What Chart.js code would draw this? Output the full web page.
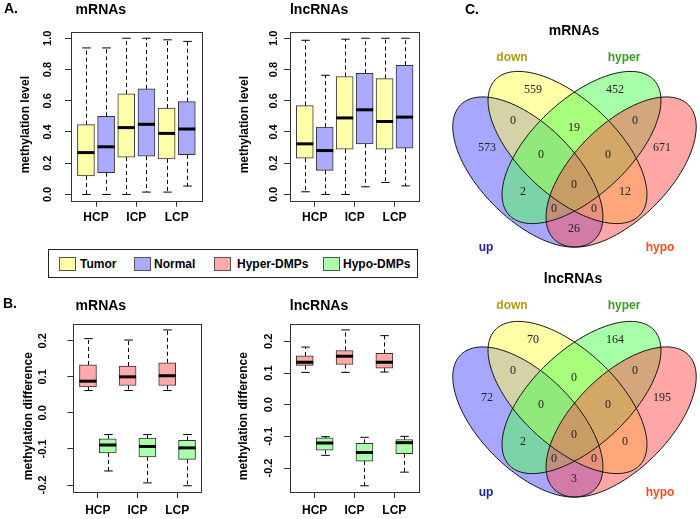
<!DOCTYPE html>
<html>
<head>
<meta charset="utf-8">
<script src="https://cdn.jsdelivr.net/npm/chart.js@4.4.1/dist/chart.umd.min.js"></script>
<style>
  body { margin: 0; background: #fff; }
  #fig { position: relative; width: 700px; height: 519px; background: #fff; overflow: hidden;
         font-family: "Liberation Sans", Arial, sans-serif; color: #000; }
  #fig canvas { position: absolute; }
  .t { position: absolute; transform: translate(-50%, -50%); font-weight: bold; line-height: 1; white-space: nowrap; }
  .lt { position: absolute; transform: translate(0, -50%); font-weight: bold; font-size: 12px; line-height: 1; white-space: nowrap; }
  .sw { position: absolute; top: 257px; width: 17px; height: 14px; border: 1px solid #555; box-sizing: border-box; }
  #legend { position: absolute; left: 48px; top: 249px; width: 370px; height: 29px; border: 1px solid #222; box-sizing: border-box; }
</style>
</head>
<body>
<div id="fig">
  <canvas id="aM" width="215" height="232" style="left:0;top:0"></canvas>
  <canvas id="aL" width="215" height="232" style="left:219px;top:0"></canvas>
  <canvas id="bM" width="215" height="227" style="left:0;top:292px"></canvas>
  <canvas id="bL" width="215" height="227" style="left:219px;top:292px"></canvas>
  <canvas id="vM" width="260" height="260" style="left:440px;top:0"></canvas>
  <canvas id="vL" width="260" height="260" style="left:440px;top:250px"></canvas>

  <span class="t" style="left:11px;top:8px;font-size:14px">A.</span>
  <span class="t" style="left:10px;top:303px;font-size:14px">B.</span>
  <span class="t" style="left:472px;top:9px;font-size:14px">C.</span>

  <div id="legend"></div>
  <div class="sw" style="left:59px;background:#ffffaa"></div><span class="lt" style="left:80px;top:264px">Tumor</span>
  <div class="sw" style="left:134px;background:#aaaaff"></div><span class="lt" style="left:154px;top:264px">Normal</span>
  <div class="sw" style="left:214px;background:#ffaaaa"></div><span class="lt" style="left:237px;top:264px">Hyper-DMPs</span>
  <div class="sw" style="left:323px;background:#aaffaa"></div><span class="lt" style="left:343px;top:264px">Hypo-DMPs</span>

  <span class="t" style="left:574px;top:30px;font-size:14px">mRNAs</span>
  <span class="t" style="left:512px;top:57px;font-size:12px;color:#ad9a12">down</span>
  <span class="t" style="left:624px;top:57px;font-size:12px;color:#3a9a22">hyper</span>
  <span class="t" style="left:486px;top:247px;font-size:12px;color:#1f1f9e">up</span>
  <span class="t" style="left:660px;top:247px;font-size:12px;color:#ff4a22">hypo</span>

  <span class="t" style="left:573px;top:278px;font-size:14px">lncRNAs</span>
  <span class="t" style="left:512px;top:305px;font-size:12px;color:#ad9a12">down</span>
  <span class="t" style="left:624px;top:305px;font-size:12px;color:#3a9a22">hyper</span>
  <span class="t" style="left:486px;top:492px;font-size:12px;color:#1f1f9e">up</span>
  <span class="t" style="left:660px;top:492px;font-size:12px;color:#ff4a22">hypo</span>
</div>

<script>
const FONT = '"Liberation Sans", Arial, sans-serif'
Chart.defaults.font.family = FONT
Chart.defaults.color = '#000'

const groups = ['HCP', 'ICP', 'LCP']

// box stats for each group: [lower whisker, Q1, median, Q3, upper whisker]
const mrnaTumor  = [[0.000, 0.118, 0.268, 0.447, 0.938], [0.000, 0.239, 0.428, 0.644, 1.000], [0.015, 0.228, 0.391, 0.553, 0.990]]
const mrnaNormal = [[0.000, 0.139, 0.305, 0.500, 0.938], [0.015, 0.245, 0.449, 0.676, 1.000], [0.054, 0.254, 0.419, 0.594, 0.980]]
const lncTumor   = [[0.017, 0.232, 0.324, 0.569, 0.987], [0.000, 0.290, 0.490, 0.755, 0.994], [0.077, 0.290, 0.467, 0.742, 1.000]]
const lncNormal  = [[0.000, 0.154, 0.281, 0.431, 0.763], [0.049, 0.324, 0.542, 0.776, 1.000], [0.055, 0.296, 0.495, 0.827, 1.000]]

const mrnaHyper = [[0.062, 0.072, 0.088, 0.133, 0.206], [0.062, 0.076, 0.100, 0.130, 0.202], [0.062, 0.076, 0.103, 0.139, 0.230]]
const mrnaHypo  = [[-0.161, -0.111, -0.089, -0.072, -0.060], [-0.194, -0.122, -0.093, -0.070, -0.060], [-0.202, -0.129, -0.097, -0.076, -0.060]]
const lncHyper  = [[0.102, 0.124, 0.134, 0.154, 0.182], [0.102, 0.127, 0.153, 0.171, 0.236], [0.103, 0.115, 0.134, 0.162, 0.218]]
const lncHypo   = [[-0.160, -0.144, -0.121, -0.105, -0.101], [-0.256, -0.178, -0.151, -0.122, -0.103], [-0.213, -0.155, -0.120, -0.110, -0.100]]

const levelTicks = [0, 0.2, 0.4, 0.6, 0.8, 1.0]
const diffTicks = [-0.2, -0.1, 0, 0.1, 0.2]

const colors = { tumor: '#ffffaa', normal: '#aaaaff', hyper: '#ffaaaa', hypo: '#aaffaa' }

// trailing spaces nudge the rotated axis title a little below the plot centre, as in R
const pad = s => s + '\u00a0'.repeat(5)

// whiskers, staples and medians on top of the floating bars
const boxPlugin = {
  id: 'boxplot',
  afterDatasetsDraw(chart) {
    const { ctx, chartArea: a, scales: { y } } = chart
    const seg = (x1, y1, x2, y2) => { ctx.beginPath(); ctx.moveTo(x1, y1); ctx.lineTo(x2, y2); ctx.stroke() }
    ctx.save()
    chart.data.datasets.forEach((ds, di) => {
      chart.getDatasetMeta(di).data.forEach((bar, i) => {
        const [lo, q1, med, q3, hi] = ds.stats[i].map(v => y.getPixelForValue(v))
        const cx = Math.round(bar.x) + 0.5
        const half = bar.width / 2
        ctx.strokeStyle = '#000'
        ctx.lineWidth = 1
        ctx.setLineDash([4, 3])
        seg(cx, q3, cx, hi)
        seg(cx, q1, cx, lo)
        ctx.setLineDash([])
        seg(cx - half / 2, hi, cx + half / 2, hi)
        seg(cx - half / 2, lo, cx + half / 2, lo)
        ctx.lineWidth = 3
        seg(bar.x - half, med, bar.x + half, med)
      })
    })
    ctx.lineWidth = 1
    ctx.strokeStyle = '#333'
    ctx.strokeRect(Math.round(a.left) + 0.5, Math.round(a.top) + 0.5, Math.round(a.width), Math.round(a.height))
    ctx.restore()
  }
}

function boxChart(id, o) {
  const all = o.series.flatMap(s => s.stats.flat())
  const lo = Math.min(...all), hi = Math.max(...all)
  const ext = (hi - lo) * 0.04
  return new Chart(document.getElementById(id), {
    type: 'bar',
    data: {
      datasets: o.series.map((s, k) => ({
        label: s.label,
        data: s.stats.map((st, i) => ({ x: 2 * i + 1 + k, y: [st[1], st[3]] })),
        stats: s.stats,
        backgroundColor: s.color,
        borderColor: '#333',
        borderWidth: 1,
        borderSkipped: false,
        barThickness: 17,
        grouped: false
      }))
    },
    options: {
      responsive: false,
      animation: false,
      events: [],
      layout: { padding: { left: 0, right: o.rightPad, top: 0, bottom: 0 } },
      plugins: {
        legend: { display: false },
        tooltip: { enabled: false },
        title: {
          display: true, text: o.title, color: '#000',
          font: { size: 14, weight: 'bold' },
          padding: { top: o.headTop, bottom: o.headBottom }
        }
      },
      scales: {
        x: {
          type: 'linear', min: 0.26, max: 6.74, offset: false,
          afterBuildTicks: sc => { sc.ticks = [1.5, 3.5, 5.5].map(v => ({ value: v })) },
          afterFit: sc => { sc.height = o.xH },
          ticks: {
            callback: (v, i) => groups[i], autoSkip: false, maxRotation: 0,
            padding: o.xPad, color: '#000', font: { size: 12, weight: 'bold' }
          },
          grid: { offset: false, drawOnChartArea: false, tickLength: 6, color: '#333' },
          border: { display: false }
        },
        y: {
          min: lo - ext, max: hi + ext,
          afterBuildTicks: sc => { sc.ticks = o.yTicks.map(v => ({ value: v })) },
          afterFit: sc => { sc.width = o.axisW },
          ticks: {
            callback: v => v.toFixed(1), autoSkip: false,
            minRotation: 90, maxRotation: 90, crossAlign: 'center',
            padding: o.tickPad, color: '#000', font: { size: 11, weight: 'bold' }
          },
          title: {
            display: true, text: pad(o.yTitle), color: '#000',
            font: { size: 12, weight: 'bold' }, padding: { top: o.titlePad, bottom: 0 }
          },
          grid: { drawOnChartArea: false, tickLength: 6, color: '#333' },
          border: { display: false }
        }
      }
    },
    plugins: [boxPlugin]
  })
}

boxChart('aM', {
  title: 'mRNAs', yTitle: 'methylation level', yTicks: levelTicks,
  series: [{ label: 'Tumor', stats: mrnaTumor, color: colors.tumor }, { label: 'Normal', stats: mrnaNormal, color: colors.normal }],
  axisW: 71, rightPad: 13.3, tickPad: 9.3, titlePad: 18.8, headTop: 2, headBottom: 13.2, xH: 31.3, xPad: 3.6
})
boxChart('aL', {
  title: 'lncRNAs', yTitle: 'methylation level', yTicks: levelTicks,
  series: [{ label: 'Tumor', stats: lncTumor, color: colors.tumor }, { label: 'Normal', stats: lncNormal, color: colors.normal }],
  axisW: 71, rightPad: 14.7, tickPad: 2, titlePad: 18.8, headTop: 2, headBottom: 13.2, xH: 31.3, xPad: 3.6
})
boxChart('bM', {
  title: 'mRNAs', yTitle: 'methylation difference', yTicks: diffTicks,
  series: [{ label: 'Hyper-DMPs', stats: mrnaHyper, color: colors.hyper }, { label: 'Hypo-DMPs', stats: mrnaHypo, color: colors.hypo }],
  axisW: 73.3, rightPad: 13.3, tickPad: 14.5, titlePad: 21.1, headTop: 5.6, headBottom: 9.3, xH: 27, xPad: 5.8
})
boxChart('bL', {
  title: 'lncRNAs', yTitle: 'methylation difference', yTicks: diffTicks,
  series: [{ label: 'Hyper-DMPs', stats: lncHyper, color: colors.hyper }, { label: 'Hypo-DMPs', stats: lncHypo, color: colors.hypo }],
  axisW: 71, rightPad: 15, tickPad: 5.2, titlePad: 17.8, headTop: 5.6, headBottom: 9.3, xH: 27, xPad: 5.8
})

// ---- Venn diagrams ----
const vennSets = ['up', 'down', 'hyper', 'hypo']
const vennRegions = ['up', 'down', 'hyper', 'hypo', 'up&down', 'down&hyper', 'hyper&hypo',
  'up&down&hyper', 'down&hyper&hypo', 'up&hyper', 'all', 'down&hypo', 'up&hyper&hypo', 'up&down&hypo', 'up&hypo']
const mrnaVenn = [573, 559, 452, 671, 0, 19, 0, 0, 0, 2, 0, 12, 0, 0, 26]
const lncVenn = [72, 70, 164, 195, 0, 0, 0, 0, 0, 2, 0, 0, 0, 0, 3]

// where each region's count sits, in the diagram's own units
const regionPos = [[47, 148], [93, 90], [175, 90], [222, 148], [73, 121], [134, 128], [195, 121],
  [101, 155], [168, 155], [83, 192], [134, 185], [185, 192], [114, 209], [154, 209], [134, 229]]

// ellipse for each set: centre x, centre y, semi-axes, angle (deg)
const vennShapes = [
  { cx: 87.85, cy: 172, rx: 95, ry: 47.4, rot: 45, fill: 'rgba(80,80,255,0.5)' },
  { cx: 127.5, cy: 147.5, rx: 99, ry: 48, rot: 43, fill: 'rgba(255,255,80,0.5)' },
  { cx: 141.5, cy: 147.5, rx: 99, ry: 48, rot: -43, fill: 'rgba(80,255,80,0.5)' },
  { cx: 181.15, cy: 172, rx: 95, ry: 47.4, rot: -45, fill: 'rgba(255,80,80,0.5)' }
]

const vennPlugin = {
  id: 'venn',
  beforeDatasetsDraw(chart) {
    const { ctx, scales: { x, y } } = chart
    const path = e => {
      const t = e.rot * Math.PI / 180
      ctx.beginPath()
      for (let k = 0; k <= 180; k++) {
        const a = k / 180 * 2 * Math.PI
        const px = e.cx + e.rx * Math.cos(a) * Math.cos(t) - e.ry * Math.sin(a) * Math.sin(t)
        const py = e.cy + e.rx * Math.cos(a) * Math.sin(t) + e.ry * Math.sin(a) * Math.cos(t)
        const X = x.getPixelForValue(px), Y = y.getPixelForValue(py)
        k === 0 ? ctx.moveTo(X, Y) : ctx.lineTo(X, Y)
      }
      ctx.closePath()
    }
    ctx.save()
    vennShapes.forEach(e => { path(e); ctx.fillStyle = e.fill; ctx.fill() })
    ctx.strokeStyle = '#111'
    ctx.lineWidth = 1
    vennShapes.forEach(e => { path(e); ctx.stroke() })
    ctx.restore()
  },
  afterDatasetsDraw(chart) {
    const { ctx } = chart
    const ds = chart.data.datasets[0]
    ctx.save()
    ctx.font = '12px "Liberation Serif", "Times New Roman", serif'
    ctx.fillStyle = '#222'
    ctx.textAlign = 'center'
    ctx.textBaseline = 'middle'
    chart.getDatasetMeta(0).data.forEach((pt, i) => ctx.fillText(String(ds.counts[i]), pt.x, pt.y))
    ctx.restore()
  }
}

function vennChart(id, counts) {
  return new Chart(document.getElementById(id), {
    type: 'scatter',
    data: {
      datasets: [{
        label: vennSets.join('/'),
        data: regionPos.map(p => ({ x: p[0], y: p[1] })),
        counts: counts,
        pointRadius: 0
      }]
    },
    options: {
      responsive: false,
      animation: false,
      events: [],
      layout: { padding: 0 },
      plugins: { legend: { display: false }, tooltip: { enabled: false } },
      scales: {
        x: { type: 'linear', min: 0, max: 260, display: false },
        y: { type: 'linear', min: 0, max: 260, reverse: true, display: false }
      }
    },
    plugins: [vennPlugin]
  })
}

vennChart('vM', mrnaVenn)
vennChart('vL', lncVenn)
</script>
</body>
</html>
